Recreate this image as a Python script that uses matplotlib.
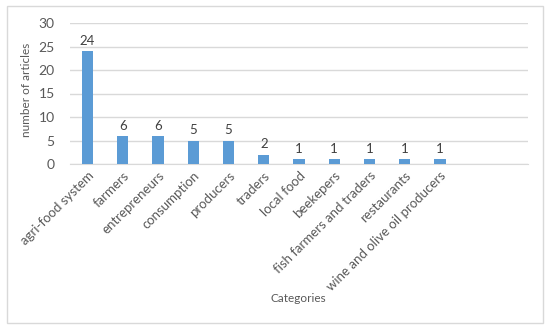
import matplotlib.pyplot as plt
from matplotlib.patches import Rectangle

# data
categories = ["agri-food system", "farmers", "entrepreneurs", "consumption",
              "producers", "traders", "local food", "beekepers",
              "fish farmers and traders", "restaurants",
              "wine and olive oil producers", "", ""]
articles = [24, 6, 6, 5, 5, 2, 1, 1, 1, 1, 1, None, None]
yticks = [0, 5, 10, 15, 20, 25, 30]

plt.rcParams['font.family'] = ['Lato', 'DejaVu Sans']

fig = plt.figure(figsize=(5.5, 3.28), dpi=100)
ax = fig.add_axes([70/550, 1 - 164/328, 458/550, 141/328])

# chart border like excel
fig.patches.append(Rectangle((7/550, 5/328), 536/550, 317/328, transform=fig.transFigure,
                             fill=False, edgecolor='#D9D9D9', linewidth=1))

xs = list(range(len(categories)))
for i, v in enumerate(articles):
    if v is None:
        continue
    ax.bar(i, v, width=0.32, color='#5B9BD5', zorder=3)
    ax.text(i, v + 0.9, str(v), ha='center', va='bottom', fontsize=9.5, color='#404040')

ax.set_xlim(-0.5, len(categories) - 0.5)
ax.set_ylim(0, 30)
ax.set_yticks(yticks)
ax.yaxis.grid(True, color='#D9D9D9', linewidth=1, zorder=0)
ax.set_xticks(xs)
ax.set_xticklabels(categories, rotation=45, ha='right', rotation_mode='anchor',
                   fontsize=9.5, color='#595959')
ax.tick_params(axis='y', labelsize=10, colors='#595959', length=0, pad=11)
ax.tick_params(axis='x', length=0, pad=4)
for s in ['top', 'right', 'left']:
    ax.spines[s].set_visible(False)
ax.spines['bottom'].set_color('#D9D9D9')

fig.text(27/550, 1 - 90/328, 'number of articles', rotation=90, ha='center', va='center',
         fontsize=8.5, color='#595959')
fig.text(298/550, 1 - 299/328, 'Categories', ha='center', va='center',
         fontsize=8.5, color='#595959')

fig.savefig('out.png', dpi=100)
